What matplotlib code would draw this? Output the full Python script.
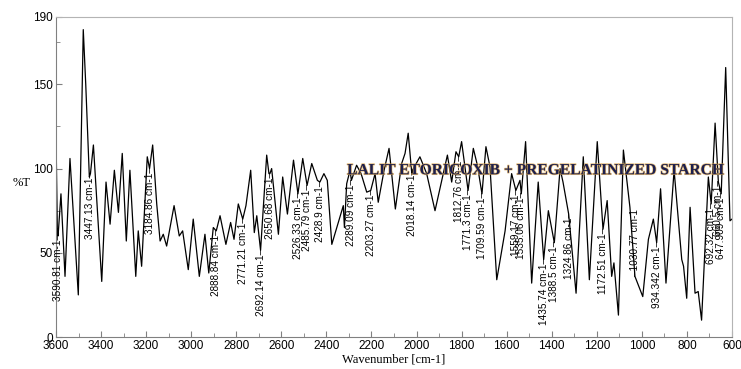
import numpy as np
import matplotlib
matplotlib.use("Agg")
import matplotlib.pyplot as plt
from matplotlib import patheffects

# FTIR spectrum, read as (wavenumber, %T) turning points
wavenumber = [
    3600, 3594, 3590.81, 3578, 3560, 3538, 3501, 3479, 3468, 3452, 3447.13,
    3434, 3397, 3378, 3360, 3341, 3323, 3306, 3288, 3272, 3246, 3235, 3220,
    3195, 3184.86, 3171, 3153, 3138, 3124, 3109, 3076, 3053, 3038, 3013, 2991,
    2964, 2939, 2922, 2902, 2888.84, 2872, 2846, 2825, 2810, 2791, 2771.21,
    2757, 2736, 2720, 2709, 2692.14, 2665, 2655, 2650.68, 2643, 2613, 2594,
    2573, 2546, 2526.33, 2505, 2485.79, 2465, 2440, 2428.9, 2411, 2396, 2376,
    2325, 2320, 2310, 2295, 2289.09, 2266, 2246, 2221, 2203.27, 2184, 2170,
    2144, 2122, 2094, 2066, 2051, 2037, 2021, 2018.14, 1985, 1955, 1918, 1888,
    1863, 1844, 1825, 1812.76, 1800, 1771.3, 1748, 1730, 1709.59, 1692, 1674,
    1644, 1607, 1578, 1559.17, 1541, 1535.06, 1516, 1489, 1460, 1435.74, 1415,
    1388.5, 1363, 1350, 1324.86, 1292, 1260, 1233, 1198, 1172.51, 1154, 1134,
    1124, 1104, 1082, 1053, 1030.77, 996, 971, 949, 934.342, 917, 893, 857,
    823, 815, 801, 786, 764, 750, 735, 705, 692.32, 675, 660.5, 647.909, 628,
    609, 600,
]
transmittance = [
    120, 63, 60, 85, 36, 106, 25, 182.5, 150, 95, 97,
    114, 33, 92, 67, 99, 74, 109, 57, 99, 36, 63, 42,
    107, 100, 114, 79, 57, 61, 54, 78, 60, 63, 40, 70,
    36, 61, 38, 65, 63, 72, 55, 68, 58, 79, 70,
    78, 99, 62, 72, 51.5, 108, 97, 97, 100, 61, 95,
    73, 105, 85, 106, 90, 103, 93, 92, 97, 93, 55,
    78, 65, 91, 99, 93, 102, 97, 86, 87, 97, 80,
    99, 112, 76, 103, 109, 121, 97, 99, 107, 97, 75, 93,
    108, 92, 110, 107, 116, 87, 112, 102, 85, 113, 101,
    34, 63, 97, 87, 93, 85, 116, 32, 92, 46, 75,
    56, 100, 92, 73, 26, 107, 34, 116, 64, 81, 36,
    44, 13, 111, 77, 36, 24, 58, 70, 56, 88, 32, 99,
    46, 42, 23, 77, 26, 27, 10, 95, 79, 127, 92, 85, 160,
    69, 70,
]

# picked peaks, labelled below the trace
peaks_below = [
    "3590.81", "3447.13", "3184.86", "2888.84", "2771.21", "2692.14",
    "2650.68", "2526.33", "2485.79", "2428.9", "2289.09", "2203.27",
    "2018.14", "1812.76", "1771.3", "1709.59", "1559.17", "1535.06",
    "1435.74", "1388.5", "1324.86", "1172.51", "934.342", "692.32",
    "660.5", "647.909",
]
# picked peaks, labelled above the trace
peaks_above = ["1030.77"]

sample_name = "LALIT ETORICOXIB + PREGELATINIZED STARCH"

fig = plt.figure(figsize=(7.41, 3.69), dpi=100)
ax = fig.add_axes([56 / 741, 32 / 369, 676 / 741, 320 / 369])

ax.plot(wavenumber, transmittance, color="black", lw=0.9)

wn = np.array(wavenumber)
tr = np.array(transmittance)
order = np.argsort(wn)
for p in peaks_below:
    y = np.interp(float(p), wn[order], tr[order])
    ax.text(float(p), y + 1, p + " cm-1\u2013", rotation=90, ha="center",
            va="top", fontsize=7.2, family="Liberation Sans")
for p in peaks_above:
    y = np.interp(float(p), wn[order], tr[order])
    ax.text(float(p), y, "\u2013" + p + " cm-1", rotation=90, ha="center",
            va="bottom", fontsize=7.2, family="Liberation Sans")

ax.text(2308, 99, sample_name, ha="left", va="center", fontsize=11.2,
        family="Liberation Serif", fontweight="bold", color="#1c1f4e",
        path_effects=[patheffects.Stroke(linewidth=1.1, foreground="#d9a24a", alpha=0.7),
                      patheffects.Normal()])

ax.set_xlim(3600, 600)
ax.set_ylim(0, 190)
ax.set_xticks(np.arange(3600, 599, -200))
ax.set_xticks(np.arange(3600, 599, -100), minor=True)
ax.set_yticks([0, 50, 100, 150, 190])
ax.set_yticks([25, 75, 125, 175], minor=True)
ax.tick_params(which="both", direction="in", color="#808080", labelsize=8.5,
               pad=2)
ax.tick_params(which="major", length=4)
ax.tick_params(which="minor", length=3)
for lbl in ax.get_xticklabels() + ax.get_yticklabels():
    lbl.set_family("Liberation Sans")

for side in ["top", "right"]:
    ax.spines[side].set_color("#b4b4b4")
for side in ["left", "bottom"]:
    ax.spines[side].set_color("#808080")

ax.set_xlabel("Wavenumber [cm-1]", family="Liberation Serif", fontsize=9,
              labelpad=1)
fig.text(22 / 741, 1 - 183 / 369, "%T", family="Liberation Serif",
         fontsize=9, ha="center", va="center")

fig.savefig("out.png", dpi=100)
